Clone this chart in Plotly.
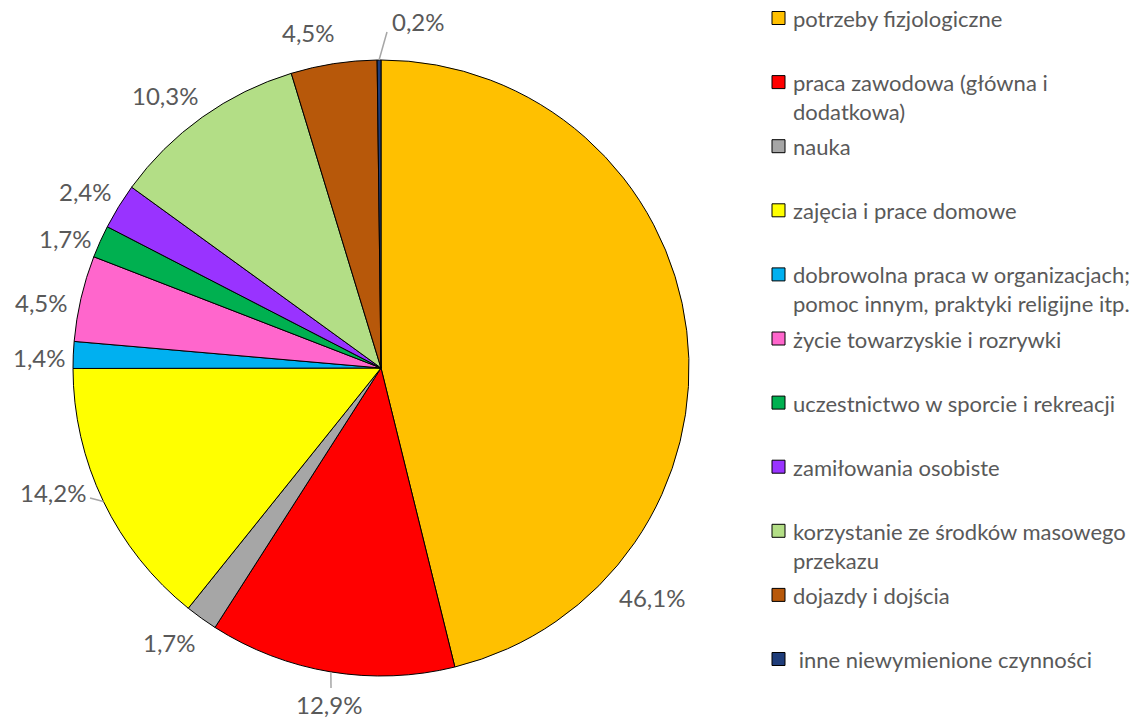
import math
import plotly.graph_objects as go

categories = [
    "potrzeby fizjologiczne",
    "praca zawodowa (główna i<br>dodatkowa)",
    "nauka",
    "zajęcia i prace domowe",
    "dobrowolna praca w organizacjach;<br>pomoc innym, praktyki religijne itp.",
    "życie towarzyskie i rozrywki",
    "uczestnictwo w sporcie i rekreacji",
    "zamiłowania osobiste",
    "korzystanie ze środków masowego<br>przekazu",
    "dojazdy i dojścia",
    "\u00a0inne niewymienione czynności",
]
values = [46.1, 12.9, 1.7, 14.2, 1.4, 4.5, 1.7, 2.4, 10.3, 4.5, 0.2]
colors = ["#FFC000", "#FF0000", "#A6A6A6", "#FFFF00", "#00B0F0", "#FF66CC",
          "#00B050", "#9933FF", "#B3DE86", "#B7580A", "#1F3D7A"]

W, H = 1144, 718
CX, CY, R = 381, 368, 308

# label placement (pixel centres, layout only)
label_pos = [(652, 597), (329, 704), (169, 642), (53, 492), (39, 357), (41, 302),
             (65, 238), (85, 192), (165, 95), (308, 33), (418, 22)]
leader_end = {1: (331, 688), 3: (90, 498), 10: (387, 32)}

def px(x):
    return x / W

def py(y):
    return 1 - y / H

fig = go.Figure()
fig.add_trace(go.Pie(
    labels=[c.replace("<br>", " ") for c in categories],
    values=values,
    sort=False,
    direction="clockwise",
    rotation=0,
    textinfo="none",
    hoverinfo="label+percent",
    marker=dict(colors=colors, line=dict(color="#000000", width=1)),
    domain=dict(x=[px(CX - R), px(CX + R)], y=[py(CY + R), py(CY - R)]),
    showlegend=False,
))

annotations = []
shapes = []
total = sum(values)
cum = 0.0
text_col = "#595959"
for i, v in enumerate(values):
    mid = (cum + v / 2) / total * 2 * math.pi
    cum += v
    lx, ly = label_pos[i]
    annotations.append(dict(
        x=px(lx), y=py(ly), xref="paper", yref="paper",
        text=f"{v:.1f}".replace(".", ",") + "%",
        showarrow=False, xanchor="center", yanchor="middle",
        font=dict(family="Lato", size=24, color=text_col),
    ))
    if leader_end.get(i):
        ex = CX + R * math.sin(mid)
        ey = CY - R * math.cos(mid)
        tx, ty = leader_end[i]
        shapes.append(dict(type="line", xref="paper", yref="paper",
                           x0=px(ex), y0=py(ey), x1=px(tx), y1=py(ty),
                           line=dict(color="#A6A6A6", width=1.5)))

# manual legend
LX, LY0, STEP, SQ = 772, 18, 64.1, 13
for i, name in enumerate(categories):
    yc = LY0 + STEP * i
    shapes.append(dict(type="rect", xref="paper", yref="paper",
                       x0=px(LX), x1=px(LX + SQ), y0=py(yc - SQ / 2), y1=py(yc + SQ / 2),
                       fillcolor=colors[i], line=dict(color="#000000", width=1)))
    annotations.append(dict(
        x=px(LX + SQ + 6), y=py(yc - 15), xref="paper", yref="paper",
        text=name, showarrow=False, xanchor="left", yanchor="top", align="left",
        font=dict(family="Lato", size=22, color=text_col),
    ))

fig.update_layout(
    width=W, height=H,
    margin=dict(l=0, r=0, t=0, b=0),
    paper_bgcolor="white", plot_bgcolor="white",
    annotations=annotations, shapes=shapes,
)
fig.write_html("out.html", config={"displayModeBar": False},
               post_script="document.body.style.margin='0px';")
